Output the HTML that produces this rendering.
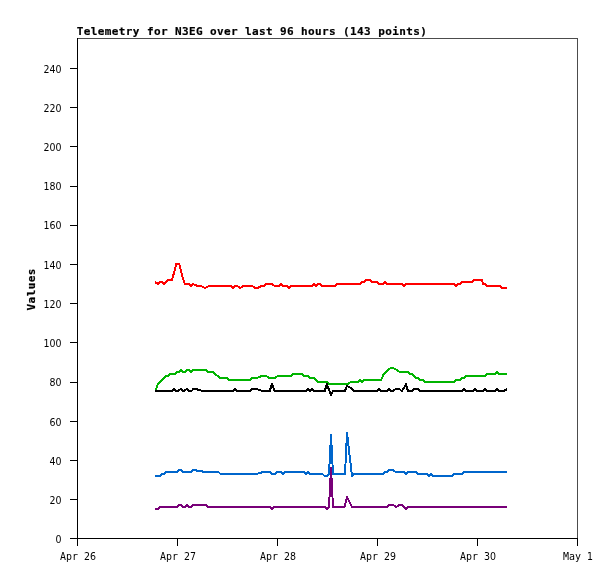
<!DOCTYPE html>
<html lang="en"><head><meta charset="utf-8"><title>Telemetry for N3EG</title>
<style>html,body{margin:0;padding:0;background:#fff}svg{display:block}.s{font-family:"DejaVu Sans Mono","Liberation Mono",monospace;font-size:11px;fill:#000;stroke:none}.n{font-family:"DejaVu Sans","Liberation Sans",sans-serif;font-size:11px;fill:#000;stroke:none}.b{font-family:"DejaVu Sans Mono","Liberation Mono",monospace;font-size:11px;font-weight:bold;fill:#000;stroke:#000;stroke-width:.2px}.d{fill:none;stroke-width:2;stroke-linejoin:round;stroke-linecap:butt;shape-rendering:crispEdges}.a{fill:#000;shape-rendering:crispEdges}</style></head><body>
<svg width="615" height="579" viewBox="0 0 615 579">
<rect width="615" height="579" fill="#fff"/>
<text class="b" x="76.8" y="35" textLength="350" lengthAdjust="spacing">Telemetry for N3EG over last 96 hours (143 points)</text>
<text class="b" transform="translate(35,310.5) rotate(-90)" textLength="42" lengthAdjust="spacing">Values</text>
<g class="a">
<rect x="77" y="38" width="501" height="1" fill="#4c4c4c"/><rect x="577" y="38" width="1" height="501" fill="#4c4c4c"/><rect x="77" y="538" width="501" height="1"/>
<rect x="77" y="38" width="1" height="501"/>
<rect x="70" y="68" width="7" height="1"/>
<rect x="70" y="107" width="7" height="1"/>
<rect x="70" y="146" width="7" height="1"/>
<rect x="70" y="186" width="7" height="1"/>
<rect x="70" y="225" width="7" height="1"/>
<rect x="70" y="264" width="7" height="1"/>
<rect x="70" y="303" width="7" height="1"/>
<rect x="70" y="342" width="7" height="1"/>
<rect x="70" y="382" width="7" height="1"/>
<rect x="70" y="421" width="7" height="1"/>
<rect x="70" y="460" width="7" height="1"/>
<rect x="70" y="499" width="7" height="1"/>
<rect x="70" y="538" width="7" height="1"/>
<rect x="77" y="538" width="1" height="8"/>
<rect x="177" y="538" width="1" height="8"/>
<rect x="277" y="538" width="1" height="8"/>
<rect x="377" y="538" width="1" height="8"/>
<rect x="477" y="538" width="1" height="8"/>
<rect x="577" y="538" width="1" height="8"/>
</g>
<text class="n" x="43.5" y="73" textLength="18" lengthAdjust="spacingAndGlyphs">240</text>
<text class="n" x="43.5" y="112" textLength="18" lengthAdjust="spacingAndGlyphs">220</text>
<text class="n" x="43.5" y="151" textLength="18" lengthAdjust="spacingAndGlyphs">200</text>
<text class="n" x="43.5" y="190" textLength="18" lengthAdjust="spacingAndGlyphs">180</text>
<text class="n" x="43.5" y="229" textLength="18" lengthAdjust="spacingAndGlyphs">160</text>
<text class="n" x="43.5" y="269" textLength="18" lengthAdjust="spacingAndGlyphs">140</text>
<text class="n" x="43.5" y="308" textLength="18" lengthAdjust="spacingAndGlyphs">120</text>
<text class="n" x="43.5" y="347" textLength="18" lengthAdjust="spacingAndGlyphs">100</text>
<text class="n" x="49.5" y="386" textLength="12" lengthAdjust="spacingAndGlyphs">80</text>
<text class="n" x="49.5" y="426" textLength="12" lengthAdjust="spacingAndGlyphs">60</text>
<text class="n" x="49.5" y="465" textLength="12" lengthAdjust="spacingAndGlyphs">40</text>
<text class="n" x="49.5" y="504" textLength="12" lengthAdjust="spacingAndGlyphs">20</text>
<text class="n" x="55.5" y="543" textLength="6" lengthAdjust="spacingAndGlyphs">0</text>
<text y="560"><tspan class="s" x="60" textLength="18" lengthAdjust="spacingAndGlyphs">Apr</tspan> <tspan class="n" x="84" textLength="12" lengthAdjust="spacingAndGlyphs">26</tspan></text>
<text y="560"><tspan class="s" x="160" textLength="18" lengthAdjust="spacingAndGlyphs">Apr</tspan> <tspan class="n" x="184" textLength="12" lengthAdjust="spacingAndGlyphs">27</tspan></text>
<text y="560"><tspan class="s" x="260" textLength="18" lengthAdjust="spacingAndGlyphs">Apr</tspan> <tspan class="n" x="284" textLength="12" lengthAdjust="spacingAndGlyphs">28</tspan></text>
<text y="560"><tspan class="s" x="360" textLength="18" lengthAdjust="spacingAndGlyphs">Apr</tspan> <tspan class="n" x="384" textLength="12" lengthAdjust="spacingAndGlyphs">29</tspan></text>
<text y="560"><tspan class="s" x="460" textLength="18" lengthAdjust="spacingAndGlyphs">Apr</tspan> <tspan class="n" x="484" textLength="12" lengthAdjust="spacingAndGlyphs">30</tspan></text>
<text y="560"><tspan class="s" x="563" textLength="18" lengthAdjust="spacingAndGlyphs">May</tspan> <tspan class="n" x="587" textLength="6" lengthAdjust="spacingAndGlyphs">1</tspan></text>
<polyline class="d" stroke="#ff0000" points="155,282 158,284 160.2,282 162,282 164.1,284 167.6,280 172,280 174.2,272 176.3,264 179.3,264 182.7,278 185,284 189,284 191,286 193,284 195.5,285 197.8,286 200.7,286 205.1,288 208.9,286 230.9,286 233,288 235.2,286 237.2,286 240.3,288 243.5,286 252.3,286 255.2,288 257.7,288 261.6,286 264.4,286 265.9,284 272.2,284 274.6,286 279,286 280.8,284 283,286 286.8,286 289,288 291,286 312.2,286 314,284 315.9,286 317.9,284 319.9,284 321.8,286 335,286 337,284 359.9,284 361.8,282 364.3,282 366.2,280 370.1,280 372,282 377.3,282 379,284 383.2,284 384.9,282 386.8,284 402,284 404,286 405.9,284 454.1,284 455.9,286 457.9,284 460.1,284 461.9,282 472.3,282 474.3,280 481.7,280 483.3,284 484.6,284 486.6,286 500.2,286 501.7,288 507,288"/>
<polyline class="d" stroke="#00b400" points="156,390 157.3,385.5 158.8,383 165.6,376 168,376 170,374 175.4,374 177.3,372 179.3,372 181,370 183.2,372 185.1,372 186.9,370 189,370 191,372 192.9,370 206.2,370 208.2,372 212.8,372 220.1,378 227.4,378 229.4,380 249.9,380 251.8,378 257.2,378 261.5,376 266.3,376 268.8,378 275.1,378 277.6,376 291.2,376 293.2,374 302.4,374 304.4,376 308.3,376 310.2,378 314.1,378 318,382 327.2,382 329.1,384 347.7,384 350.6,382 357.9,382 360.1,380 362,382 364.3,380 381.2,380 383.7,374 390.5,368 393.4,368 399.8,372 408,372 410,374 412.4,374 416.3,378 418.3,378 420.2,380 422.7,380 425.1,382 454.3,382 456.2,380 459.6,380 461.6,378 464,378 466,376 485.1,376 487.1,374 494.9,374 496.8,372 499.3,374 507,374"/>
<polyline class="d" stroke="#0066cc" points="155,476 160.2,476 161.4,474 164.2,474 165.9,472 177.3,472 179,470 181,470 182.8,472 191.2,472 193,470 196.1,470 197.2,471 201.8,471 202.9,472 218.4,472 220.7,474 257.1,474 258.8,473 260.5,473 262.2,472 270.2,472 272.3,474 275.3,474 277.4,472 281.4,472 283,474 284.7,472 304.2,472 305.8,474 308,472 309.6,474 322.3,474 324.6,476 327,476 329,474 331,435 333,474 345,474 347,433 352,476 353.6,474 383,474 384.7,472 387,472 389,470 393.3,470 395.5,472 404.1,472 405.8,474 407.8,472 416,472 418,474 427,474 428.9,476 430.7,474 432.6,476 452.3,476 454,474 462.2,474 463.9,472 507,472"/>
<polyline class="d" stroke="#780078" points="155,509 158.2,509 159.7,507 177.3,507 179,505 181,505 183,507 184.9,507 186.8,505 188.7,507 190.7,507 193,505 206.3,505 208.3,507 270.2,507 272.1,509 274.2,507 325.4,507 327,509 329,507 331,468 333,507 344.5,507 347,497 352,507 387,507 389,505 393.3,505 396.1,507 399.5,505 402.4,505 406,509 408,507 507,507"/>
<polyline class="d" stroke="#000000" points="155,391 172,391 173.9,389 176.3,391 178.3,391 180.5,389 183.2,391 184.1,391 186.6,389 189.5,391 191.5,391 193.4,389 195.9,389 202.7,391 232.8,391 235,389 237,391 249.9,391 252,389 256.7,389 262,391 269.8,391 271.9,384 274.6,391 306.3,391 308.1,389 310,391 311.9,389 313.7,391 324.8,391 326.9,384 328.7,389 331.1,395 333,391 344.8,391 347,386 351.1,388 354,391 377.3,391 379,389 380.7,391 387.1,391 389,389 391,391 392.9,391 395.6,389 399.3,389 401.7,391 403.7,388.5 405.9,384 407.9,391 412,391 414.1,389 418.3,389 420,391 462.1,391 464,389 466,391 472.6,391 474.8,389 476.7,391 482.7,391 484.8,389 486.8,391 494.9,391 496.8,389 499.3,391 504.1,391 507,389"/>
</svg></body></html>
